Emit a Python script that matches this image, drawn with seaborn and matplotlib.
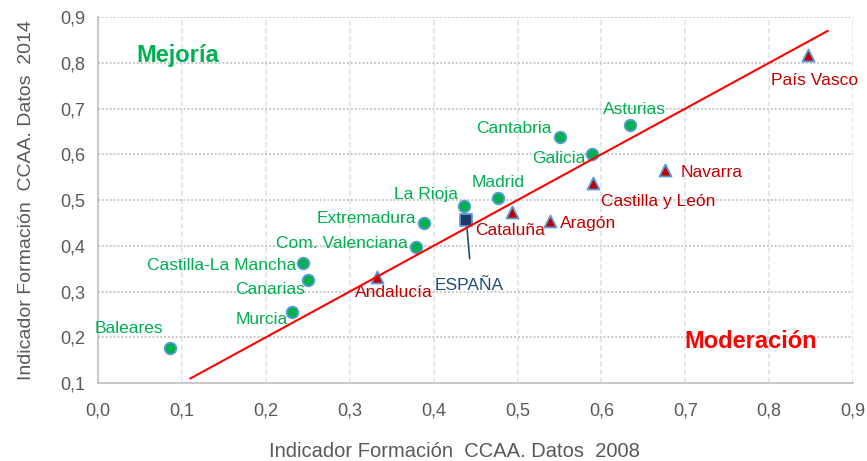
import pandas as pd
import matplotlib
matplotlib.use('Agg')
import matplotlib.pyplot as plt
import seaborn as sns

# =============================================================================
# Data
# =============================================================================

green_names = ['Baleares', 'Murcia', 'Canarias', 'Castilla-La Mancha', 'Com. Valenciana',
               'Extremadura', 'La Rioja', 'Madrid', 'Cantabria', 'Galicia', 'Asturias']
green_x = [0.086, 0.231, 0.250, 0.244, 0.379, 0.389, 0.436, 0.477, 0.551, 0.589, 0.634]
green_y = [0.177, 0.255, 0.325, 0.362, 0.397, 0.450, 0.487, 0.504, 0.638, 0.600, 0.664]

red_names = ['Andalucía', 'Cataluña', 'Aragón', 'Castilla y León', 'Navarra', 'País Vasco']
red_x = [0.333, 0.493, 0.539, 0.590, 0.676, 0.846]
red_y = [0.332, 0.474, 0.454, 0.537, 0.566, 0.817]

spain_x = [0.439]
spain_y = [0.456]

diag = [0.11, 0.87]

ticks = [0.0, 0.1, 0.2, 0.3, 0.4, 0.5, 0.6, 0.7, 0.8, 0.9]

# label offsets (points) and alignment
green_offsets = {
    'Baleares': (-30, 14, 'center'),
    'Murcia': (-3, -5, 'right'),
    'Canarias': (-2, -7, 'right'),
    'Castilla-La Mancha': (-5, -2, 'right'),
    'Com. Valenciana': (-6, 3, 'right'),
    'Extremadura': (-6, 3, 'right'),
    'La Rioja': (-4, 8, 'right'),
    'Madrid': (0, 11, 'center'),
    'Cantabria': (-6, 6, 'right'),
    'Galicia': (-5, -3, 'right'),
    'Asturias': (3, 11, 'center'),
}
red_offsets = {
    'Andalucía': (11.5, -11, 'center'),
    'Cataluña': (-1, -13, 'center'),
    'Aragón': (7, -2, 'left'),
    'Castilla y León': (6, -13, 'left'),
    'Navarra': (11, -2, 'left'),
    'País Vasco': (5, -18, 'center'),
}

green_df = pd.DataFrame({'x': green_x, 'y': green_y, 'name': green_names})
red_df = pd.DataFrame({'x': red_x, 'y': red_y, 'name': red_names})
spain_df = pd.DataFrame({'x': spain_x, 'y': spain_y})

# =============================================================================
# Plot
# =============================================================================

sns.set_style('white')
plt.rcParams['font.family'] = ['Liberation Sans', 'DejaVu Sans']

fig = plt.figure(figsize=(8.67, 4.61), dpi=100)
ax = fig.add_axes([0.113, 0.169, 0.871, 0.794])

ax.set_xlim(0, 0.9)
ax.set_ylim(0.1, 0.9)

for t in ticks[1:]:
    ax.axvline(t, color='#DCE6F2', lw=1.3, ls=(0, (3, 1.5)), zorder=0)
for t in ticks[2:]:
    ax.axhline(t, color='#C8C8C8', lw=1.4, ls=(0, (1, 1)), zorder=0)

sns.scatterplot(data=green_df, x='x', y='y', ax=ax, color='#00B050', marker='o',
                s=70, edgecolor='#5B9BD5', linewidth=1.3, zorder=3)
sns.scatterplot(data=red_df, x='x', y='y', ax=ax, color='#C00000', marker='^',
                s=75, edgecolor='#5B9BD5', linewidth=1.3, zorder=3)
sns.scatterplot(data=spain_df, x='x', y='y', ax=ax, color='#1F3864', marker='s',
                s=65, edgecolor='#5B9BD5', linewidth=1.3, zorder=4)

# diagonal drawn on top, like the shape in the original
ax.plot(diag, diag, color='#FF0000', lw=1.5, zorder=5)

for _, r in green_df.iterrows():
    dx, dy, ha = green_offsets[r['name']]
    ax.annotate(r['name'], (r['x'], r['y']), xytext=(dx, dy), textcoords='offset points',
                ha=ha, va='center', color='#00B050', fontsize=12.5)
for _, r in red_df.iterrows():
    dx, dy, ha = red_offsets[r['name']]
    ax.annotate(r['name'], (r['x'], r['y']), xytext=(dx, dy), textcoords='offset points',
                ha=ha, va='center', color='#C00000', fontsize=12.5)

ax.annotate('ESPAÑA', (spain_x[0], spain_y[0]), xytext=(2, -47), textcoords='offset points',
            ha='center', va='center', color='#1F4E79', fontsize=12.5)
ax.annotate('', (spain_x[0], spain_y[0]), xytext=(spain_x[0] + 0.004, 0.372),
            arrowprops=dict(arrowstyle='-', color='#1F4E79', lw=1.2, shrinkA=0, shrinkB=0))

ax.text(0.046, 0.815, 'Mejoría', color='#00B050', fontsize=17, fontweight='bold', va='center')
ax.text(0.778, 0.19, 'Moderación', color='#FF0000', fontsize=17, fontweight='bold',
        va='center', ha='center')

ax.set_xticks(ticks)
ax.set_yticks(ticks[1:])
ax.set_xticklabels([f'{t:.1f}'.replace('.', ',') for t in ticks])
ax.set_yticklabels([f'{t:.1f}'.replace('.', ',') for t in ticks[1:]])
ax.tick_params(axis='both', length=0, labelsize=13, labelcolor='#595959')
ax.tick_params(axis='x', pad=14)
ax.tick_params(axis='y', pad=9)

ax.set_xlabel('Indicador Formación  CCAA. Datos  2008', fontsize=14.5, color='#595959')
ax.set_ylabel('Indicador Formación  CCAA. Datos  2014', fontsize=14, color='#595959', labelpad=18)
ax.xaxis.set_label_coords(0.472, -0.162)

sns.despine(ax=ax)
ax.spines['left'].set_color('#BFBFBF')
ax.spines['bottom'].set_color('#BFBFBF')
ax.spines['left'].set_linewidth(1.2)
ax.spines['bottom'].set_linewidth(1.2)

fig.savefig('out.png', dpi=100)
